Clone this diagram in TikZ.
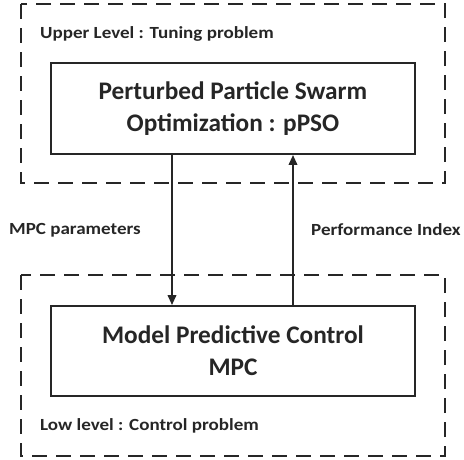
\documentclass[tikz,border=0pt]{standalone}
\usepackage{fontspec}
\setmainfont{Carlito}
\newfontfamily\lblfont[FakeStretch=1.12]{Carlito}
\usetikzlibrary{arrows.meta}
\begin{document}
\begin{tikzpicture}[x=1pt,y=-1pt,
  dashbox/.style={draw=black!85, line width=1.9pt, dash pattern=on 15pt off 9pt},
  solidbox/.style={draw=black!85, line width=1.9pt, inner sep=0pt},
  boxtext/.style={font=\fontsize{25.3}{32}\selectfont\bfseries, text=black!85, align=center},
  lbl/.style={font=\lblfont\fontsize{17}{20}\selectfont\bfseries, text=black!85, anchor=west, inner sep=0pt},
  arr/.style={draw=black!85, line width=2pt, -{Triangle[length=10pt,width=8.5pt]}}]
\useasboundingbox (0,0) rectangle (464,459);
\draw[dashbox] (21,4) rectangle (445,183);
\draw[dashbox] (21,275) rectangle (445,456);
\node[solidbox, minimum width=364pt, minimum height=91pt] (pso) at (233,108.5) {};
\node[boxtext] at (pso.center) {Perturbed Particle Swarm\\Optimization : pPSO};
\node[solidbox, minimum width=364pt, minimum height=90pt] (mpc) at (233,351) {};
\node[boxtext] at (mpc.center) {Model Predictive Control\\MPC};
\node[lbl] (ul) at (40,34) {Upper Level : Tuning problem};
\node[lbl] (ll) at (40,426) {Low level : Control problem};
\node[lbl] (mp) at (9,230) {MPC parameters};
\node[lbl] (pi) at (311,230) {Performance Index};
\draw[arr] (pso.south -| 172,0) -- (mpc.north -| 172,0);
\draw[arr] (mpc.north -| 293,0) -- (pso.south -| 293,0);
\end{tikzpicture}
\end{document}
